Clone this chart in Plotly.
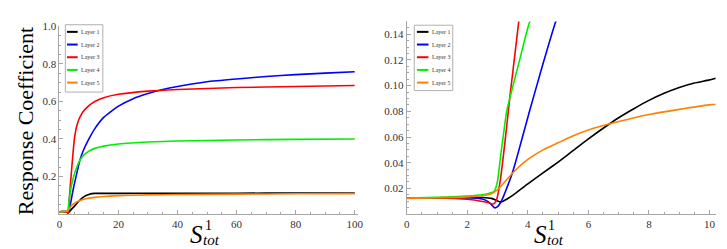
import plotly.graph_objects as go

# ---------------- data ----------------
layer_names = ["Layer 1", "Layer 2", "Layer 3", "Layer 4", "Layer 5"]
layer_colors = ["#000000", "#0000ff", "#ff0000", "#00ee00", "#ff8000"]

x_layer1 = [0, 1, 2, 2.5, 2.8, 3.0, 3.1, 3.2, 3.3, 3.5, 4, 4.5, 5, 5.5, 6, 6.5, 7, 7.5, 8, 8.5, 9, 9.5, 10,
            10.5, 11, 12, 15, 20, 40, 60, 80, 100]
y_layer1 = [0.0125, 0.0127, 0.0128, 0.0129, 0.0122, 0.0102, 0.0095, 0.0102, 0.0115, 0.0145, 0.0235, 0.032,
            0.0405, 0.0495, 0.0585, 0.067, 0.075, 0.082, 0.0885, 0.094, 0.0985, 0.102, 0.1045,
            0.1075, 0.109, 0.110, 0.110, 0.110, 0.111, 0.111, 0.112, 0.112]

x_layer2 = [0, 1, 2, 2.5, 2.7, 2.8, 2.91, 3.0, 3.1, 3.2, 3.3, 3.46, 3.6, 3.8, 4.05, 4.5, 4.92, 5.5, 6, 7, 8,
            10, 12, 15, 20, 25, 30, 35, 40, 50, 60, 70, 80, 90, 100]
y_layer2 = [0.0125, 0.0127, 0.0128, 0.0118, 0.0095, 0.0072, 0.0048, 0.0058, 0.009, 0.014, 0.020, 0.030,
            0.041, 0.058, 0.0796, 0.117, 0.150, 0.19, 0.225, 0.29, 0.335, 0.40, 0.455, 0.515, 0.575,
            0.615, 0.642, 0.664, 0.68, 0.705, 0.72, 0.733, 0.743, 0.751, 0.758]

x_layer3 = [0, 1, 2, 2.5, 2.7, 2.86, 2.95, 3.0, 3.1, 3.2, 3.3, 3.4, 3.5, 3.6, 3.7, 4, 4.5, 5, 5.5, 6, 6.5,
            7, 8, 10, 12, 15, 20, 30, 40, 60, 80, 100]
y_layer3 = [0.0125, 0.0125, 0.0115, 0.0098, 0.0088, 0.0078, 0.010, 0.014, 0.028, 0.047, 0.068, 0.09, 0.11,
            0.13, 0.15, 0.21, 0.305, 0.39, 0.442, 0.476, 0.500, 0.518, 0.545, 0.578, 0.600, 0.62, 0.638,
            0.655, 0.664, 0.674, 0.68, 0.685]

x_layer4 = [0, 1, 2, 2.5, 2.7, 2.9, 3.0, 3.1, 3.2, 3.3, 3.5, 3.75, 4, 4.5, 5, 6, 7, 8, 10, 12, 15, 20, 30,
            40, 60, 80, 100]
y_layer4 = [0.0125, 0.013, 0.014, 0.015, 0.016, 0.018, 0.026, 0.045, 0.063, 0.080, 0.099, 0.122, 0.145,
            0.18, 0.21, 0.255, 0.288, 0.31, 0.335, 0.35, 0.362, 0.373, 0.384, 0.389, 0.395, 0.398, 0.40]

x_layer5 = [0, 1, 2, 2.5, 2.8, 3.0, 3.2, 3.5, 4, 4.5, 5, 5.5, 6, 7, 8, 9, 10, 12, 15, 20, 30, 40, 60, 80, 100]
y_layer5 = [0.0122, 0.0127, 0.0133, 0.0142, 0.0158, 0.019, 0.024, 0.032, 0.0425, 0.050, 0.0555, 0.061,
            0.0655, 0.072, 0.0775, 0.0815, 0.085, 0.089, 0.094, 0.098, 0.102, 0.104, 0.106, 0.108, 0.109]

xs = [x_layer1, x_layer2, x_layer3, x_layer4, x_layer5]
ys = [y_layer1, y_layer2, y_layer3, y_layer4, y_layer5]

left_xticks = [0, 20, 40, 60, 80, 100]
left_yticks = [0.2, 0.4, 0.6, 0.8, 1.0]
left_yticktext = ["0.2", "0.4", "0.6", "0.8", "1.0"]
right_xticks = [0, 2, 4, 6, 8, 10]
right_yticks = [0.02, 0.04, 0.06, 0.08, 0.10, 0.12, 0.14]
right_yticktext = ["0.02", "0.04", "0.06", "0.08", "0.10", "0.12", "0.14"]

# ---------------- figure ----------------
W, H = 727, 249
SERIF = "Liberation Serif, Times New Roman, serif"
AXC = "#a6a6a6"

def px(x):
    return x / W

def py(y):
    return 1 - y / H

fig = go.Figure()
for i in range(5):
    for xa, ya in (("x", "y"), ("x2", "y2")):
        fig.add_trace(go.Scatter(
            x=xs[i], y=ys[i], mode="lines", xaxis=xa, yaxis=ya,
            line=dict(color=layer_colors[i], width=1.6, shape="spline", smoothing=0.5),
            showlegend=False, hoverinfo="skip"))

def axis_style():
    return dict(showgrid=False, zeroline=False, showline=True, linecolor=AXC, linewidth=1,
                ticks="inside", tickcolor=AXC, ticklen=4,
                tickfont=dict(family=SERIF, size=11, color="#333333"))

fig.update_layout(
    width=W, height=H,
    margin=dict(l=0, r=0, t=0, b=0),
    paper_bgcolor="white", plot_bgcolor="white",
    font=dict(family=SERIF),
    xaxis=dict(domain=[px(49), px(351)], range=[0, 101], anchor="y",
               tickmode="array", tickvals=left_xticks,
               minor=dict(tickmode="linear", tick0=0, dtick=5, ticks="inside", ticklen=2, tickcolor=AXC),
               **axis_style()),
    yaxis=dict(domain=[py(205), py(12.7)], range=[0, 1.0], anchor="x",
               tickmode="array", tickvals=left_yticks, ticktext=left_yticktext,
               minor=dict(tickmode="linear", tick0=0, dtick=0.05, ticks="inside", ticklen=2, tickcolor=AXC),
               **axis_style()),
    xaxis2=dict(domain=[px(400.7), px(713.4)], range=[0, 10.2], anchor="y2",
                tickmode="array", tickvals=right_xticks,
                minor=dict(tickmode="linear", tick0=0, dtick=0.5, ticks="inside", ticklen=2, tickcolor=AXC),
                **axis_style()),
    yaxis2=dict(domain=[py(205), py(7.6)], range=[0, 0.15], anchor="x2",
                tickmode="array", tickvals=right_yticks, ticktext=right_yticktext,
                minor=dict(tickmode="linear", tick0=0, dtick=0.005, ticks="inside", ticklen=2, tickcolor=AXC),
                **axis_style()),
)

annotations = []
shapes = []

# y-axis title
annotations.append(dict(text="Response Coefficient", x=px(15), y=py(110), xref="paper", yref="paper",
                        showarrow=False, textangle=-90, xanchor="center", yanchor="middle",
                        font=dict(family=SERIF, size=22, color="#000000")))

# x-axis titles S^1_tot
for sx in (188, 536):
    annotations.append(dict(text="<i>S</i>", x=px(sx), y=py(225.5), xref="paper", yref="paper",
                            showarrow=False, xanchor="center", yanchor="middle",
                            font=dict(family=SERIF, size=25, color="#000000")))
    annotations.append(dict(text="1", x=px(sx + 11.5), y=py(216.5), xref="paper", yref="paper",
                            showarrow=False, xanchor="center", yanchor="middle", height=11,
                            font=dict(family=SERIF, size=14, color="#000000")))
    annotations.append(dict(text="<i>tot</i>", x=px(sx + 15), y=py(231.5), xref="paper", yref="paper",
                            showarrow=False, xanchor="center", yanchor="middle", height=11,
                            font=dict(family=SERIF, size=15, color="#000000")))

# manual legends
legend_boxes = [
    dict(x0=55, x1=93, y0=11, y1=80, lx0=56.7, lx1=67.5, tx=69),
    dict(x0=408.3, x1=447.3, y0=11.5, y1=78.5, lx0=411, lx1=422.7, tx=424),
]
entry_y = [18.3, 31.3, 44.3, 57.3, 70.3]
for b in legend_boxes:
    shapes.append(dict(type="rect", xref="paper", yref="paper",
                       x0=px(b["x0"]), x1=px(b["x1"]), y0=py(b["y1"]), y1=py(b["y0"]),
                       line=dict(color="#b0b0b0", width=1), fillcolor="white", layer="above"))
    for i in range(5):
        shapes.append(dict(type="line", xref="paper", yref="paper",
                           x0=px(b["lx0"]), x1=px(b["lx1"]), y0=py(entry_y[i]), y1=py(entry_y[i]),
                           line=dict(color=layer_colors[i], width=2), layer="above"))
        annotations.append(dict(text=layer_names[i], x=px(b["tx"]), y=py(entry_y[i]),
                                xref="paper", yref="paper", showarrow=False,
                                xanchor="left", yanchor="middle",
                                font=dict(family=SERIF, size=6, color="#333333")))

fig.update_layout(annotations=annotations, shapes=shapes)
fig.write_html("out.html")
